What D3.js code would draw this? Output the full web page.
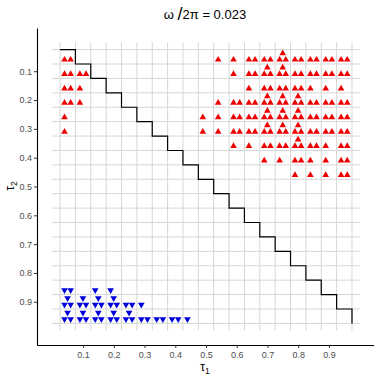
<!DOCTYPE html>
<html>
<head>
<meta charset="utf-8">
<script src="https://cdn.jsdelivr.net/npm/d3@7"></script>
<style>
  body { margin: 0; background: #fff; }
  text { font-family: "Liberation Sans", Arial, sans-serif; }
</style>
</head>
<body>
<div id="chart"></div>
<script>
// tick labels on both axes
const xTicks = [0.1, 0.2, 0.3, 0.4, 0.5, 0.6, 0.7, 0.8, 0.9];
const yTicks = [0.1, 0.2, 0.3, 0.4, 0.5, 0.6, 0.7, 0.8, 0.9];

// cell borders of the 0.05 grid, also used for the staircase
const cellEdges = [0.025, 0.075, 0.125, 0.175, 0.225, 0.275, 0.325, 0.375, 0.425, 0.475,
                   0.525, 0.575, 0.625, 0.675, 0.725, 0.775, 0.825, 0.875, 0.925, 0.975];

// [tau1, tau2, which spots in the cell are filled] L = left, R = right, T = top
const redCells = [
  [0.05, 0.05, "LR"], [0.05, 0.10, "LR"], [0.10, 0.10, "LR"], [0.05, 0.15, "LR"],
  [0.10, 0.15, "L"], [0.05, 0.20, "LR"], [0.10, 0.20, "L"], [0.05, 0.25, "L"], [0.05, 0.30, "L"],

  [0.55, 0.05, "L"], [0.60, 0.05, "L"], [0.65, 0.05, "LR"], [0.70, 0.05, "LR"], [0.75, 0.05, "LRT"],
  [0.80, 0.05, "LR"], [0.85, 0.05, "LR"], [0.90, 0.05, "LR"], [0.95, 0.05, "LR"],

  [0.60, 0.10, "L"], [0.65, 0.10, "LR"], [0.70, 0.10, "LRT"], [0.75, 0.10, "LRT"],
  [0.80, 0.10, "LR"], [0.85, 0.10, "LR"], [0.90, 0.10, "LR"], [0.95, 0.10, "LR"],

  [0.65, 0.15, "L"], [0.70, 0.15, "LR"], [0.75, 0.15, "LR"], [0.80, 0.15, "LR"],
  [0.85, 0.15, "L"], [0.90, 0.15, "L"], [0.95, 0.15, "L"],

  [0.55, 0.20, "L"], [0.60, 0.20, "LR"], [0.65, 0.20, "LR"], [0.70, 0.20, "LRT"], [0.75, 0.20, "LRT"],
  [0.80, 0.20, "LRT"], [0.85, 0.20, "LR"], [0.90, 0.20, "LR"], [0.95, 0.20, "LR"],

  [0.50, 0.25, "L"], [0.55, 0.25, "L"], [0.60, 0.25, "LR"], [0.65, 0.25, "LR"], [0.70, 0.25, "LRT"],
  [0.75, 0.25, "LRT"], [0.80, 0.25, "LRT"], [0.85, 0.25, "LR"], [0.90, 0.25, "LR"], [0.95, 0.25, "LR"],

  [0.50, 0.30, "L"], [0.55, 0.30, "L"], [0.60, 0.30, "LR"], [0.65, 0.30, "LR"], [0.70, 0.30, "LRT"],
  [0.75, 0.30, "LRT"], [0.80, 0.30, "LRT"], [0.85, 0.30, "LR"], [0.90, 0.30, "LR"], [0.95, 0.30, "LR"],

  [0.60, 0.35, "L"], [0.65, 0.35, "L"], [0.70, 0.35, "LR"], [0.75, 0.35, "LR"],
  [0.80, 0.35, "LRT"], [0.85, 0.35, "LR"], [0.90, 0.35, "L"], [0.95, 0.35, "LR"],

  [0.70, 0.40, "L"], [0.75, 0.40, "L"], [0.80, 0.40, "LR"], [0.85, 0.40, "L"],
  [0.90, 0.40, "L"], [0.95, 0.40, "LR"],

  [0.80, 0.45, "L"], [0.85, 0.45, "L"], [0.90, 0.45, "L"], [0.95, 0.45, "LR"]
];

const blueCells = [
  [0.05, 0.85, "LR"], [0.15, 0.85, "L"], [0.20, 0.85, "L"],

  [0.05, 0.90, "LRT"], [0.10, 0.90, "LRT"], [0.15, 0.90, "LRT"], [0.20, 0.90, "LRT"],
  [0.25, 0.90, "LR"], [0.30, 0.90, "L"],

  [0.05, 0.95, "LRT"], [0.10, 0.95, "LRT"], [0.15, 0.95, "LRT"], [0.20, 0.95, "LRT"],
  [0.25, 0.95, "LRT"], [0.30, 0.95, "LR"], [0.35, 0.95, "LR"], [0.40, 0.95, "LR"], [0.45, 0.95, "L"]
];

const width = 380, height = 380;

// position of each spot inside its cell, in data units
const spot = { L: [-0.0105, 0.01], R: [0.0095, 0.01], T: [-0.0005, -0.0125] };

const x = d3.scaleLinear().domain([-0.05, 1.045]).range([37, 373.5]);
const y = d3.scaleLinear().domain([-0.05, 1.05]).range([28, 345]);

const svg = d3.select("#chart").append("svg")
    .attr("width", width)
    .attr("height", height);

// grid of cells
const grid = svg.append("g")
    .attr("stroke", "#d6d6d6")
    .attr("stroke-width", 1);

grid.selectAll(".v")
  .data(cellEdges)
  .join("line")
    .attr("x1", d => x(d)).attr("x2", d => x(d))
    .attr("y1", y(0)).attr("y2", y(1));

grid.selectAll(".h")
  .data(cellEdges)
  .join("line")
    .attr("y1", d => y(d)).attr("y2", d => y(d))
    .attr("x1", x(0)).attr("x2", x(1));

// staircase
svg.append("path")
    .datum(cellEdges)
    .attr("fill", "none")
    .attr("stroke", "#000")
    .attr("stroke-width", 1.2)
    .attr("d", d3.line()
        .curve(d3.curveStepAfter)
        .x(d => x(d))
        .y(d => y(d)));

function spots(cells) {
  const out = [];
  cells.forEach(([cx, cy, s]) => {
    for (const k of s) out.push([cx + spot[k][0], cy + spot[k][1]]);
  });
  return out;
}

const tri = d3.symbol().type(d3.symbolTriangle).size(19);

svg.append("g")
    .attr("fill", "#ee0000")
  .selectAll("path")
  .data(spots(redCells))
  .join("path")
    .attr("transform", d => `translate(${x(d[0])},${y(d[1])})`)
    .attr("d", tri);

svg.append("g")
    .attr("fill", "#0000dd")
  .selectAll("path")
  .data(spots(blueCells))
  .join("path")
    .attr("transform", d => `translate(${x(d[0])},${y(d[1])}) rotate(180)`)
    .attr("d", tri);

// axes
const xAxis = svg.append("g")
    .attr("transform", `translate(0,345)`)
    .call(d3.axisBottom(x).tickValues(xTicks).tickFormat(d3.format(".1f"))
        .tickSize(3).tickSizeOuter(0).tickPadding(4));

const yAxis = svg.append("g")
    .attr("transform", `translate(37,0)`)
    .call(d3.axisLeft(y).tickValues(yTicks).tickFormat(d3.format(".1f"))
        .tickSize(3).tickSizeOuter(0).tickPadding(2));

[xAxis, yAxis].forEach(a => {
  a.select(".domain").attr("stroke", "#000").attr("stroke-width", 1.1);
  a.selectAll(".tick line").attr("stroke", "#333");
  a.selectAll(".tick text")
      .attr("fill", "#4d4d4d")
      .style("font-size", "9px")
      .style("font-family", "'Liberation Sans', Arial, sans-serif");
});

// title
const title = svg.append("text")
    .attr("x", 205)
    .attr("y", 19)
    .attr("text-anchor", "middle")
    .style("font-size", "13px")
    .attr("fill", "#000");
title.append("tspan").text("ω ");
title.append("tspan").style("font-size", "18px").attr("dy", 1).text("/");
title.append("tspan").attr("dy", -1).text("2π = 0.023");

// axis titles
const xl = svg.append("text")
    .attr("x", 205)
    .attr("y", 371)
    .attr("text-anchor", "middle")
    .style("font-size", "12px");
xl.append("tspan").text("τ");
xl.append("tspan").style("font-size", "8.5px").attr("dy", 3).text("1");

const yl = svg.append("text")
    .attr("transform", "translate(14,186) rotate(-90)")
    .attr("text-anchor", "middle")
    .style("font-size", "12px");
yl.append("tspan").text("τ");
yl.append("tspan").style("font-size", "8.5px").attr("dy", 3).text("2");
</script>
</body>
</html>
